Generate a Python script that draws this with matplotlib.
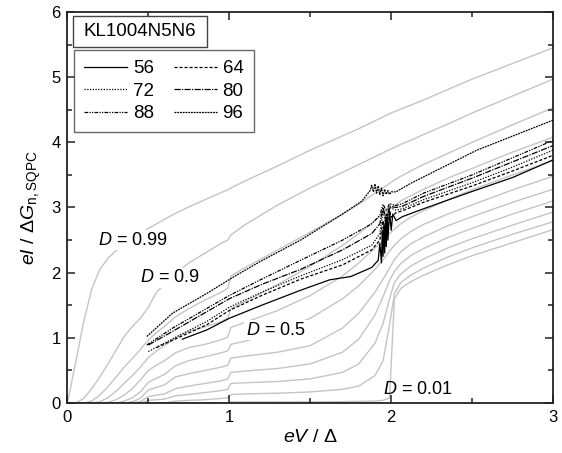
import matplotlib
matplotlib.use("Agg")
import matplotlib.pyplot as plt
from matplotlib.patches import Rectangle
import numpy as np

plt.rcParams['font.family'] = ['Liberation Sans', 'DejaVu Sans']
plt.rcParams['mathtext.fontset'] = 'custom'
plt.rcParams['mathtext.rm'] = 'Liberation Sans'
plt.rcParams['mathtext.it'] = 'Liberation Sans:italic'
plt.rcParams['mathtext.bf'] = 'Liberation Sans:bold'

# ---- theory curves (gray), one per transparency D, sampled on a common eV/Delta grid ----
D_labels = [0.99, 0.9, 0.8, 0.7, 0.6, 0.5, 0.4, 0.3, 0.2, 0.1, 0.01]
x_grid = [0, 0.05, 0.1, 0.15, 0.2, 0.25, 0.3, 0.35, 0.4, 0.45, 0.5, 0.55, 0.6, 0.667,
          0.75, 0.85, 0.95, 0.99, 1.01, 1.1, 1.3, 1.5, 1.7, 1.8, 1.9, 1.95, 1.99, 2.02,
          2.06, 2.12, 2.2, 2.35, 2.5, 2.75, 3.0]

y_d099 = [0, 0.62, 1.25, 1.75, 2.05, 2.22, 2.34, 2.44, 2.52, 2.60, 2.68, 2.75, 2.82, 2.91,
          3.01, 3.12, 3.23, 3.27, 3.30, 3.41, 3.64, 3.88, 4.10, 4.21, 4.33, 4.39, 4.44, 4.47,
          4.51, 4.57, 4.65, 4.81, 4.97, 5.21, 5.45]
y_d09 = [0, 0.0, 0.07, 0.22, 0.40, 0.60, 0.81, 1.02, 1.17, 1.30, 1.47, 1.70, 1.82, 1.98,
         2.15, 2.30, 2.45, 2.50, 2.58, 2.74, 3.04, 3.30, 3.54, 3.66, 3.78, 3.84, 3.89, 3.92,
         3.97, 4.03, 4.12, 4.28, 4.45, 4.71, 4.97]
y_d08 = [0, 0, 0.0, 0.03, 0.12, 0.25, 0.40, 0.55, 0.68, 0.82, 0.97, 1.08, 1.18, 1.32,
         1.45, 1.58, 1.70, 1.76, 1.95, 2.08, 2.35, 2.62, 2.90, 3.05, 3.22, 3.30, 3.37, 3.42,
         3.48, 3.56, 3.66, 3.83, 4.00, 4.27, 4.53]
y_d07 = [0, 0, 0, 0, 0.02, 0.08, 0.18, 0.30, 0.42, 0.55, 0.70, 0.80, 0.88, 1.00,
         1.10, 1.17, 1.25, 1.30, 1.45, 1.56, 1.82, 2.10, 2.42, 2.60, 2.80, 2.90, 2.98, 3.03,
         3.10, 3.18, 3.28, 3.45, 3.60, 3.85, 4.08]
y_d06 = [0, 0, 0, 0, 0, 0.01, 0.05, 0.12, 0.22, 0.35, 0.50, 0.58, 0.65, 0.77,
         0.85, 0.90, 0.97, 1.01, 1.16, 1.24, 1.42, 1.65, 1.95, 2.15, 2.38, 2.50, 2.60, 2.67,
         2.75, 2.85, 2.95, 3.12, 3.27, 3.50, 3.72]
y_d05 = [0, 0, 0, 0, 0, 0, 0, 0.03, 0.08, 0.17, 0.32, 0.38, 0.44, 0.57,
         0.65, 0.71, 0.77, 0.80, 0.90, 0.95, 1.10, 1.30, 1.60, 1.80, 2.05, 2.20, 2.33, 2.42,
         2.52, 2.63, 2.74, 2.90, 3.04, 3.27, 3.48]
y_d04 = [0, 0, 0, 0, 0, 0, 0, 0, 0.02, 0.07, 0.20, 0.24, 0.28, 0.40,
         0.45, 0.50, 0.55, 0.58, 0.69, 0.72, 0.78, 0.88, 1.15, 1.38, 1.70, 1.90, 2.07, 2.20,
         2.32, 2.44, 2.55, 2.72, 2.86, 3.08, 3.28]
y_d03 = [0, 0, 0, 0, 0, 0, 0, 0, 0, 0.02, 0.10, 0.12, 0.14, 0.22,
         0.26, 0.30, 0.34, 0.37, 0.47, 0.49, 0.53, 0.60, 0.78, 0.98, 1.35, 1.63, 1.88, 2.02,
         2.14, 2.26, 2.37, 2.54, 2.68, 2.90, 3.10]
y_d02 = [0, 0, 0, 0, 0, 0, 0, 0, 0, 0, 0.04, 0.05, 0.06, 0.11,
         0.13, 0.16, 0.19, 0.21, 0.30, 0.31, 0.33, 0.37, 0.47, 0.60, 0.92, 1.22, 1.60, 1.85,
         1.98, 2.10, 2.21, 2.38, 2.52, 2.73, 2.93]
y_d01 = [0, 0, 0, 0, 0, 0, 0, 0, 0, 0, 0, 0, 0, 0.03,
         0.04, 0.05, 0.07, 0.08, 0.13, 0.14, 0.15, 0.17, 0.21, 0.26, 0.42, 0.65, 1.20, 1.68,
         1.85, 1.96, 2.07, 2.24, 2.38, 2.59, 2.78]
y_d001 = [0, 0, 0, 0, 0, 0, 0, 0, 0, 0, 0, 0, 0, 0,
          0, 0, 0, 0.005, 0.015, 0.015, 0.016, 0.018, 0.02, 0.025, 0.03, 0.04, 0.08, 1.60,
          1.76, 1.86, 1.96, 2.12, 2.26, 2.46, 2.66]
theory_y = [y_d099, y_d09, y_d08, y_d07, y_d06, y_d05, y_d04, y_d03, y_d02, y_d01, y_d001]

# ---- measured curves (black) ----
series_names = ['56', '64', '72', '80', '88', '96']

x_56 = [0.71, 0.86, 1.0, 1.2, 1.44, 1.62, 1.75, 1.88, 1.92, 1.93, 1.94, 1.945, 1.95, 1.955,
        1.96, 1.965, 1.97, 1.975, 1.98, 1.99, 2.0, 2.01, 2.03, 2.07, 2.2, 2.47, 2.75, 3.0]
y_56 = [0.98, 1.12, 1.3, 1.5, 1.73, 1.89, 1.94, 2.08, 2.19, 2.45, 2.15, 2.65, 2.25, 2.75,
        2.3, 2.85, 2.4, 2.9, 2.5, 2.95, 2.65, 2.9, 2.8, 2.86, 2.98, 3.22, 3.46, 3.73]

x_64 = [0.55, 0.7, 0.86, 1.0, 1.2, 1.44, 1.7, 1.88, 1.93, 1.95, 1.96, 1.97, 1.98, 1.99,
        2.0, 2.03, 2.07, 2.2, 2.5, 2.75, 3.0]
y_64 = [0.85, 1.02, 1.2, 1.42, 1.65, 1.9, 2.12, 2.35, 2.5, 2.8, 2.45, 2.9, 2.6, 2.95,
        2.85, 2.92, 2.95, 3.08, 3.33, 3.56, 3.8]

x_72 = [0.5, 0.7, 0.86, 1.0, 1.2, 1.44, 1.7, 1.88, 1.93, 1.95, 1.97, 1.99, 2.03, 2.07,
        2.2, 2.5, 2.75, 3.0]
y_72 = [0.79, 1.05, 1.25, 1.47, 1.7, 1.95, 2.2, 2.42, 2.6, 2.95, 2.7, 3.0, 2.96, 2.98,
        3.12, 3.38, 3.62, 3.88]

x_80 = [0.5, 0.65, 0.86, 1.0, 1.2, 1.44, 1.7, 1.88, 1.93, 1.95, 1.97, 1.99, 2.03, 2.07,
        2.2, 2.5, 2.75, 3.0]
y_80 = [0.89, 1.1, 1.4, 1.6, 1.82, 2.05, 2.35, 2.6, 2.75, 3.0, 2.8, 3.02, 3.0, 3.02,
        3.17, 3.45, 3.7, 3.95]

x_88 = [0.49, 0.65, 0.86, 1.0, 1.2, 1.44, 1.7, 1.88, 1.93, 1.95, 1.97, 1.99, 2.03, 2.07,
        2.2, 2.5, 2.86, 3.0]
y_88 = [0.89, 1.15, 1.45, 1.65, 1.9, 2.19, 2.5, 2.75, 2.88, 3.05, 2.95, 3.06, 3.03, 3.06,
        3.22, 3.5, 3.88, 4.03]

x_96 = [0.49, 0.65, 0.86, 1.03, 1.19, 1.44, 1.7, 1.82, 1.87, 1.88, 1.89, 1.9, 1.91, 1.92,
        1.93, 1.94, 1.95, 1.96, 1.97, 1.98, 1.99, 2.0, 2.03, 2.12, 2.53, 3.0]
y_96 = [1.02, 1.38, 1.68, 1.94, 2.17, 2.5, 2.9, 3.1, 3.26, 3.34, 3.24, 3.36, 3.22, 3.33,
        3.2, 3.3, 3.18, 3.28, 3.2, 3.26, 3.2, 3.24, 3.24, 3.37, 3.88, 4.34]

meas_x = [x_56, x_64, x_72, x_80, x_88, x_96]
meas_y = [y_56, y_64, y_72, y_80, y_88, y_96]
meas_styles = ['-', (0, (2.5, 1.5)), (0, (1, 1.2)), (0, (5, 1, 1, 1)),
               (0, (3, 1, 1, 1, 1, 1)), (0, (1.5, 0.7))]

fig = plt.figure(figsize=(5.62, 4.53), dpi=100)
ax = fig.add_axes([0.1201, 0.1104, 0.8639, 0.8631])

for ys in theory_y:
    ax.plot(x_grid, ys, color='#c4c4c4', lw=1.0, zorder=1)

handles = {}
for name, xs, ys, ls in zip(series_names, meas_x, meas_y, meas_styles):
    h, = ax.plot(xs, ys, color='black', lw=0.9, ls=ls, label=name, zorder=3)
    handles[name] = h

ax.set_xlim(0, 3)
ax.set_ylim(0, 6)
ax.set_xticks([0, 1, 2, 3])
ax.set_yticks([0, 1, 2, 3, 4, 5, 6])
ax.set_xticks([0.5, 1.5, 2.5], minor=True)
ax.set_yticks(np.arange(0.5, 6, 1.0), minor=True)
ax.tick_params(which='both', direction='in', top=True, right=True, labelsize=12,
               width=1.1, color='#222222')
ax.tick_params(which='major', length=6, pad=5)
ax.tick_params(which='minor', length=3.5)
for s in ax.spines.values():
    s.set_linewidth(1.3)
    s.set_color('#222222')

ax.set_xlabel(r'$eV$ / $\Delta$', fontsize=14, labelpad=3)
ax.set_ylabel(r'$eI$ / $\Delta G_{\rm n,SQPC}$', fontsize=14, labelpad=6)

lab_kw = dict(fontsize=13, va='center', zorder=5,
              bbox=dict(boxstyle='square,pad=0.1', fc='white', ec='none'))
ax.text(0.19, 2.5, r'$D$ = 0.99', **lab_kw)
ax.text(0.45, 1.92, r'$D$ = 0.9', **lab_kw)
ax.text(1.10, 1.12, r'$D$ = 0.5', **lab_kw)
ax.text(1.95, 0.2, r'$D$ = 0.01', fontsize=13, va='center', zorder=5)

# sample-name box
box_l, box_b, box_w, box_h = 0.0113, 0.910, 0.276, 0.079
ax.add_patch(Rectangle((box_l, box_b), box_w, box_h, transform=ax.transAxes,
                       fc='white', ec='#444444', lw=1, zorder=6))
ax.text(box_l + box_w / 2, box_b + box_h / 2, 'KL1004N5N6', transform=ax.transAxes,
        fontsize=13.5, ha='center', va='center', zorder=7)

order = ['56', '72', '88', '64', '80', '96']
leg = ax.legend([handles[k] for k in order], order, ncol=2, loc='upper left',
                bbox_to_anchor=(0.0134, 0.903), fontsize=13.5, frameon=True,
                fancybox=False, edgecolor='#444444', handlelength=2.3,
                columnspacing=1.05, labelspacing=0.28, borderpad=0.55,
                handletextpad=0.3, borderaxespad=0)
leg.get_frame().set_linewidth(1)
leg.set_zorder(8)

fig.savefig('out.png', dpi=100)
